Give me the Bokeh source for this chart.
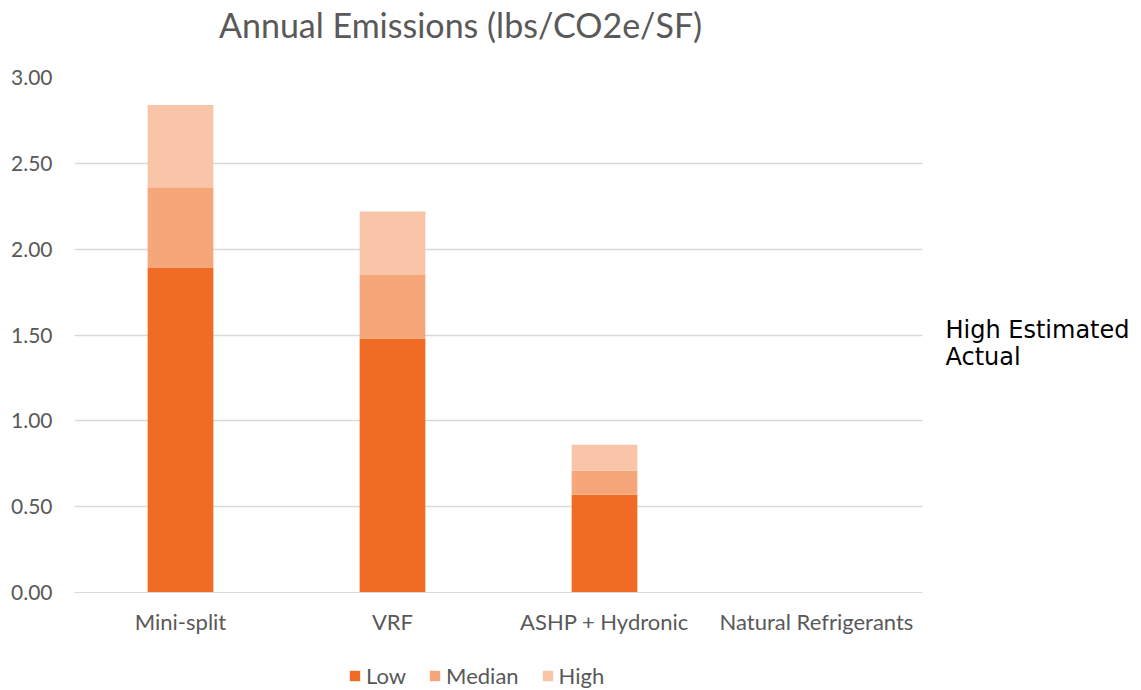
from bokeh.plotting import figure
from bokeh.layouts import column
from bokeh.models import (ColumnDataSource, Legend, LegendItem, FactorRange, Range1d,
                          NumeralTickFormatter, FixedTicker, LinearAxis, Label)
from bokeh.embed import file_html
from bokeh.resources import INLINE

categories = ["Mini-split", "VRF", "ASHP + Hydronic", "Natural Refrigerants"]
low = [1.89, 1.48, 0.57, 0.0]
median = [0.47, 0.37, 0.14, 0.0]
high = [0.48, 0.37, 0.15, 0.0]
series = ["Low", "Median", "High"]
colors = ["#F06B23", "#F6A77A", "#F9C5A9"]
title_text = "Annual Emissions (lbs/CO2e/SF)"
side_note = ["High Estimated", "Actual"]
side_note_y = [1.532, 1.369]

src = ColumnDataSource(dict(cat=categories, Low=low, Median=median, High=high))
font = "Lato"
W = 1141

# title strip
top = figure(x_range=Range1d(0, W), y_range=Range1d(0, 60), width=W, height=60,
             output_backend="svg", toolbar_location=None, min_border=0)
top.outline_line_color = None
top.axis.visible = False
top.grid.visible = False
top.add_layout(Label(x=519.5, y=36, text=title_text, text_align="center", text_baseline="middle",
                     text_font=font, text_font_size="34px", text_color="#595959"))

# main chart
p = figure(x_range=FactorRange(*categories, range_padding=0), y_range=Range1d(0, 3),
           width=W, height=590, output_backend="svg", toolbar_location=None,
           min_border_left=74, min_border_right=219, min_border_top=17, min_border_bottom=58)
p.outline_line_color = None

p.vbar_stack(series, x="cat", width=0.31, color=colors, source=src, line_color=None)

p.yaxis.ticker = FixedTicker(ticks=[0, 0.5, 1, 1.5, 2, 2.5, 3])
p.yaxis.formatter = NumeralTickFormatter(format="0.00")
p.yaxis.axis_line_color = None
p.yaxis.major_tick_line_color = None
p.yaxis.minor_tick_line_color = None
p.yaxis.major_label_standoff = 16
p.yaxis.major_label_text_font_size = "21px"
p.xaxis.axis_line_color = "#D9D9D9"
p.xaxis.major_tick_line_color = None
p.xaxis.major_label_standoff = 9
p.xaxis.major_label_text_font_size = "22px"
for ax in (p.xaxis, p.yaxis):
    ax.major_label_text_font = font
    ax.major_label_text_color = "#595959"
p.xgrid.grid_line_color = None
p.ygrid.grid_line_color = "#D9D9D9"
p.ygrid.grid_line_width = 1.5

# side note text on the right, as axis labels
note_axis = LinearAxis(ticker=FixedTicker(ticks=side_note_y),
                       major_label_overrides={y: t for y, t in zip(side_note_y, side_note)},
                       axis_line_color=None, major_tick_line_color=None, minor_tick_line_color=None,
                       major_label_standoff=17, major_label_text_font="DejaVu Sans",
                       major_label_text_font_size="24px", major_label_text_color="#000000")
p.add_layout(note_axis, "right")

# legend strip: same series drawn in a strip whose y range keeps the bars out of view
pl = figure(x_range=FactorRange(*categories, range_padding=0), y_range=Range1d(10, 11),
            width=W, height=40, output_backend="svg", toolbar_location=None,
            min_border=0)
pl.outline_line_color = None
pl.axis.visible = False
pl.grid.visible = False
rs = pl.vbar_stack(series, x="cat", width=0.31, color=colors, source=src, line_color=None)
legend = Legend(items=[LegendItem(label=s, renderers=[r]) for s, r in zip(series, rs)],
                orientation="horizontal", location=(274, 1),
                glyph_width=13, glyph_height=13, spacing=22, padding=0, margin=0,
                label_text_font=font, label_text_font_size="22px", label_text_color="#595959",
                label_standoff=5, border_line_color=None, background_fill_alpha=0)
pl.add_layout(legend, "center")

layout = column(top, p, pl, spacing=0)
open("out.html", "w").write(file_html(layout, INLINE))
